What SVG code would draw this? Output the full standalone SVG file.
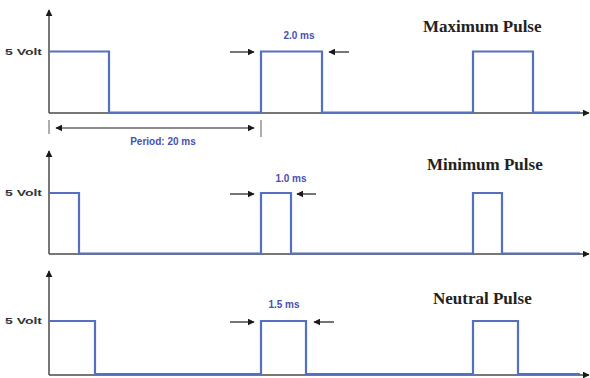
<svg xmlns="http://www.w3.org/2000/svg" width="590" height="378" viewBox="0 0 590 378">
<defs>
<marker id="ah" viewBox="0 0 10 10" refX="9" refY="5" markerWidth="7" markerHeight="7" markerUnits="userSpaceOnUse" orient="auto-start-reverse">
<path d="M0,0 L10,5 L0,10 z" fill="#1a1a1a"/>
</marker>
<marker id="ax" viewBox="0 0 10 10" refX="9" refY="5" markerWidth="7" markerHeight="7" markerUnits="userSpaceOnUse" orient="auto">
<path d="M0,0 L10,5 L0,10 z" fill="#1a1a1a"/>
</marker>
</defs>
<style>
.axis{fill:none;stroke:#4a4a4a;stroke-width:1.5}
.sig{fill:none;stroke:#5470c0;stroke-width:2.2;stroke-linejoin:miter}
.dim{fill:none;stroke:#1a1a1a;stroke-width:1.2}
.tick{fill:none;stroke:#777;stroke-width:1.2}
.volt{font-family:"Liberation Sans",Arial,sans-serif;font-weight:bold;font-size:9.5px;fill:#333}
.ms{font-family:"Liberation Sans",Arial,sans-serif;font-weight:bold;font-size:10px;fill:#4a4fb0;text-anchor:middle}
.title{font-family:"Liberation Serif","Times New Roman",serif;font-weight:bold;font-size:17px;fill:#222}
</style>
<rect width="590" height="378" fill="#ffffff"/>

<g id="panel-max">
<path class="axis" d="M49,113 V10" marker-end="url(#ax)"/>
<path class="axis" d="M49,113 H589" marker-end="url(#ax)"/>
<path class="sig" d="M49,51.5 H109 V112.5 H261 V51.5 H322 V112.5 H473 V51.5 H533 V112.5 H580"/>
<text class="volt" x="5" y="55" textLength="37" lengthAdjust="spacingAndGlyphs">5 Volt</text>
<text class="ms" x="299" y="39">2.0 ms</text>
<text class="title" x="423" y="32">Maximum Pulse</text>
</g>

<g id="panel-min">
<path class="axis" d="M49,254 V151" marker-end="url(#ax)"/>
<path class="axis" d="M49,254 H589" marker-end="url(#ax)"/>
<path class="sig" d="M49,193 H79 V253.5 H261 V193 H291 V253.5 H473 V193 H502 V253.5 H580"/>
<text class="volt" x="5" y="196" textLength="37" lengthAdjust="spacingAndGlyphs">5 Volt</text>
<text class="ms" x="291" y="182">1.0 ms</text>
<text class="title" x="427" y="170">Minimum Pulse</text>
</g>

<g id="panel-neutral">
<path class="axis" d="M49,375 V271" marker-end="url(#ax)"/>
<path class="axis" d="M49,375 H589" marker-end="url(#ax)"/>
<path class="sig" d="M49,321 H95 V374 H261 V321 H306 V374 H473 V321 H518 V374 H580"/>
<text class="volt" x="5" y="324" textLength="37" lengthAdjust="spacingAndGlyphs">5 Volt</text>
<text class="ms" x="284" y="308">1.5 ms</text>
<text class="title" x="433" y="304">Neutral Pulse</text>
</g>

<g id="connectors">
<path class="dim" d="M230,52 H254" marker-end="url(#ah)"/>
<path class="dim" d="M349,52 H329" marker-end="url(#ah)"/>
<path class="dim" d="M230,194 H254" marker-end="url(#ah)"/>
<path class="dim" d="M316,194 H297" marker-end="url(#ah)"/>
<path class="dim" d="M230,322 H254" marker-end="url(#ah)"/>
<path class="dim" d="M334,322 H314" marker-end="url(#ah)"/>
<path class="tick" d="M49,120 V134"/>
<path class="tick" d="M261,120 V137"/>
<path class="dim" d="M56,128 H254" marker-start="url(#ah)" marker-end="url(#ah)"/>
<text class="ms" x="163" y="145">Period: 20 ms</text>
</g>
</svg>
